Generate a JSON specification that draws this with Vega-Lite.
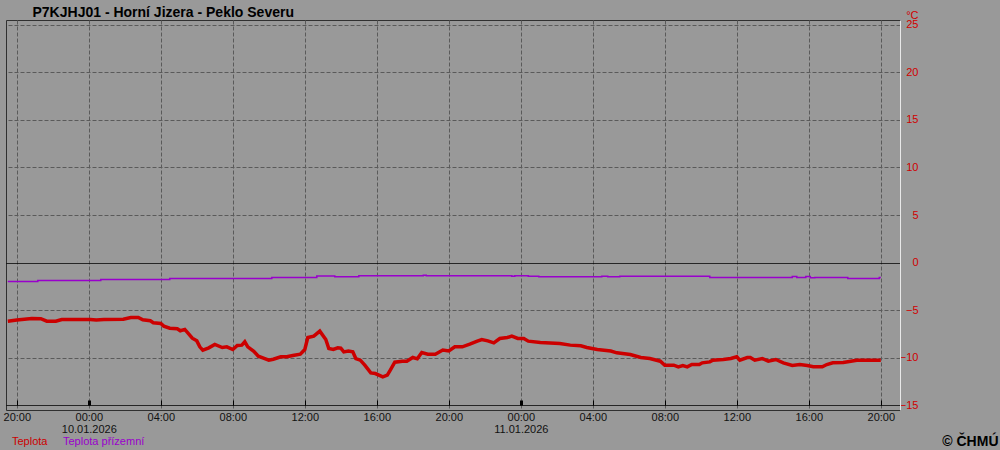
{
  "$schema": "https://vega.github.io/schema/vega-lite/v6.json",
  "width": 894,
  "height": 390,
  "autosize": "none",
  "padding": {"left": 6, "top": 20, "right": 100, "bottom": 40},
  "background": "#999999",
  "view": {"stroke": "#303030", "strokeWidth": 1},
  "config": {"font": "Liberation Sans"},
  "datasets": {
    "temp": [
      {"t": "2026-01-09T19:30", "s": "Teplota", "v": -6.16},
      {"t": "2026-01-09T20:00", "s": "Teplota", "v": -6.05},
      {"t": "2026-01-09T20:50", "s": "Teplota", "v": -5.88},
      {"t": "2026-01-09T21:20", "s": "Teplota", "v": -5.9},
      {"t": "2026-01-09T21:40", "s": "Teplota", "v": -6.16},
      {"t": "2026-01-09T22:10", "s": "Teplota", "v": -6.16},
      {"t": "2026-01-09T22:30", "s": "Teplota", "v": -5.98},
      {"t": "2026-01-10T00:05", "s": "Teplota", "v": -5.98},
      {"t": "2026-01-10T00:25", "s": "Teplota", "v": -6.05},
      {"t": "2026-01-10T00:50", "s": "Teplota", "v": -5.98},
      {"t": "2026-01-10T01:55", "s": "Teplota", "v": -5.95},
      {"t": "2026-01-10T02:20", "s": "Teplota", "v": -5.77},
      {"t": "2026-01-10T02:45", "s": "Teplota", "v": -5.77},
      {"t": "2026-01-10T03:00", "s": "Teplota", "v": -6.02},
      {"t": "2026-01-10T03:25", "s": "Teplota", "v": -6.12},
      {"t": "2026-01-10T03:35", "s": "Teplota", "v": -6.33},
      {"t": "2026-01-10T04:00", "s": "Teplota", "v": -6.4},
      {"t": "2026-01-10T04:10", "s": "Teplota", "v": -6.68},
      {"t": "2026-01-10T04:30", "s": "Teplota", "v": -6.9},
      {"t": "2026-01-10T04:55", "s": "Teplota", "v": -6.96},
      {"t": "2026-01-10T05:05", "s": "Teplota", "v": -7.17},
      {"t": "2026-01-10T05:20", "s": "Teplota", "v": -7.03},
      {"t": "2026-01-10T05:30", "s": "Teplota", "v": -7.39},
      {"t": "2026-01-10T05:45", "s": "Teplota", "v": -7.95},
      {"t": "2026-01-10T06:00", "s": "Teplota", "v": -8.23},
      {"t": "2026-01-10T06:10", "s": "Teplota", "v": -8.86},
      {"t": "2026-01-10T06:20", "s": "Teplota", "v": -9.2},
      {"t": "2026-01-10T06:40", "s": "Teplota", "v": -8.96},
      {"t": "2026-01-10T07:00", "s": "Teplota", "v": -8.6},
      {"t": "2026-01-10T07:25", "s": "Teplota", "v": -8.93},
      {"t": "2026-01-10T07:40", "s": "Teplota", "v": -8.86},
      {"t": "2026-01-10T08:00", "s": "Teplota", "v": -9.14},
      {"t": "2026-01-10T08:15", "s": "Teplota", "v": -8.72},
      {"t": "2026-01-10T08:30", "s": "Teplota", "v": -8.68},
      {"t": "2026-01-10T08:40", "s": "Teplota", "v": -8.33},
      {"t": "2026-01-10T08:50", "s": "Teplota", "v": -8.86},
      {"t": "2026-01-10T09:10", "s": "Teplota", "v": -9.32},
      {"t": "2026-01-10T09:25", "s": "Teplota", "v": -9.84},
      {"t": "2026-01-10T09:40", "s": "Teplota", "v": -10.02},
      {"t": "2026-01-10T10:00", "s": "Teplota", "v": -10.26},
      {"t": "2026-01-10T10:15", "s": "Teplota", "v": -10.16},
      {"t": "2026-01-10T10:40", "s": "Teplota", "v": -9.91},
      {"t": "2026-01-10T11:00", "s": "Teplota", "v": -9.91},
      {"t": "2026-01-10T11:20", "s": "Teplota", "v": -9.77},
      {"t": "2026-01-10T11:45", "s": "Teplota", "v": -9.63},
      {"t": "2026-01-10T12:00", "s": "Teplota", "v": -9.14},
      {"t": "2026-01-10T12:10", "s": "Teplota", "v": -7.88},
      {"t": "2026-01-10T12:30", "s": "Teplota", "v": -7.74},
      {"t": "2026-01-10T12:50", "s": "Teplota", "v": -7.21},
      {"t": "2026-01-10T13:10", "s": "Teplota", "v": -8.09},
      {"t": "2026-01-10T13:20", "s": "Teplota", "v": -9.04},
      {"t": "2026-01-10T13:35", "s": "Teplota", "v": -9.14},
      {"t": "2026-01-10T13:50", "s": "Teplota", "v": -8.96},
      {"t": "2026-01-10T14:00", "s": "Teplota", "v": -9.0},
      {"t": "2026-01-10T14:10", "s": "Teplota", "v": -9.39},
      {"t": "2026-01-10T14:25", "s": "Teplota", "v": -9.3},
      {"t": "2026-01-10T14:40", "s": "Teplota", "v": -9.39},
      {"t": "2026-01-10T14:50", "s": "Teplota", "v": -10.09},
      {"t": "2026-01-10T15:05", "s": "Teplota", "v": -10.26},
      {"t": "2026-01-10T15:20", "s": "Teplota", "v": -10.79},
      {"t": "2026-01-10T15:40", "s": "Teplota", "v": -11.6},
      {"t": "2026-01-10T15:55", "s": "Teplota", "v": -11.67},
      {"t": "2026-01-10T16:20", "s": "Teplota", "v": -12.02},
      {"t": "2026-01-10T16:35", "s": "Teplota", "v": -11.84},
      {"t": "2026-01-10T16:45", "s": "Teplota", "v": -11.3},
      {"t": "2026-01-10T17:00", "s": "Teplota", "v": -10.47},
      {"t": "2026-01-10T17:25", "s": "Teplota", "v": -10.37},
      {"t": "2026-01-10T17:40", "s": "Teplota", "v": -10.37},
      {"t": "2026-01-10T18:00", "s": "Teplota", "v": -9.98},
      {"t": "2026-01-10T18:15", "s": "Teplota", "v": -10.12},
      {"t": "2026-01-10T18:30", "s": "Teplota", "v": -9.46},
      {"t": "2026-01-10T18:50", "s": "Teplota", "v": -9.63},
      {"t": "2026-01-10T19:15", "s": "Teplota", "v": -9.63},
      {"t": "2026-01-10T19:40", "s": "Teplota", "v": -9.2},
      {"t": "2026-01-10T20:00", "s": "Teplota", "v": -9.3},
      {"t": "2026-01-10T20:20", "s": "Teplota", "v": -8.86},
      {"t": "2026-01-10T20:45", "s": "Teplota", "v": -8.86},
      {"t": "2026-01-10T21:10", "s": "Teplota", "v": -8.58},
      {"t": "2026-01-10T21:35", "s": "Teplota", "v": -8.26},
      {"t": "2026-01-10T21:50", "s": "Teplota", "v": -8.09},
      {"t": "2026-01-10T22:10", "s": "Teplota", "v": -8.23},
      {"t": "2026-01-10T22:30", "s": "Teplota", "v": -8.44},
      {"t": "2026-01-10T22:50", "s": "Teplota", "v": -7.98},
      {"t": "2026-01-10T23:15", "s": "Teplota", "v": -7.88},
      {"t": "2026-01-10T23:30", "s": "Teplota", "v": -7.74},
      {"t": "2026-01-10T23:50", "s": "Teplota", "v": -7.98},
      {"t": "2026-01-11T00:10", "s": "Teplota", "v": -7.98},
      {"t": "2026-01-11T00:25", "s": "Teplota", "v": -8.26},
      {"t": "2026-01-11T01:05", "s": "Teplota", "v": -8.4},
      {"t": "2026-01-11T02:10", "s": "Teplota", "v": -8.51},
      {"t": "2026-01-11T02:45", "s": "Teplota", "v": -8.68},
      {"t": "2026-01-11T03:20", "s": "Teplota", "v": -8.75},
      {"t": "2026-01-11T03:40", "s": "Teplota", "v": -8.93},
      {"t": "2026-01-11T04:15", "s": "Teplota", "v": -9.14},
      {"t": "2026-01-11T05:00", "s": "Teplota", "v": -9.3},
      {"t": "2026-01-11T05:20", "s": "Teplota", "v": -9.49},
      {"t": "2026-01-11T06:05", "s": "Teplota", "v": -9.67},
      {"t": "2026-01-11T06:40", "s": "Teplota", "v": -9.98},
      {"t": "2026-01-11T07:10", "s": "Teplota", "v": -10.09},
      {"t": "2026-01-11T07:45", "s": "Teplota", "v": -10.37},
      {"t": "2026-01-11T08:00", "s": "Teplota", "v": -10.79},
      {"t": "2026-01-11T08:30", "s": "Teplota", "v": -10.79},
      {"t": "2026-01-11T08:45", "s": "Teplota", "v": -10.96},
      {"t": "2026-01-11T09:00", "s": "Teplota", "v": -10.82},
      {"t": "2026-01-11T09:15", "s": "Teplota", "v": -10.96},
      {"t": "2026-01-11T09:30", "s": "Teplota", "v": -10.72},
      {"t": "2026-01-11T09:55", "s": "Teplota", "v": -10.72},
      {"t": "2026-01-11T10:05", "s": "Teplota", "v": -10.54},
      {"t": "2026-01-11T10:30", "s": "Teplota", "v": -10.44},
      {"t": "2026-01-11T10:40", "s": "Teplota", "v": -10.26},
      {"t": "2026-01-11T11:15", "s": "Teplota", "v": -10.19},
      {"t": "2026-01-11T11:40", "s": "Teplota", "v": -10.09},
      {"t": "2026-01-11T12:00", "s": "Teplota", "v": -9.91},
      {"t": "2026-01-11T12:10", "s": "Teplota", "v": -10.26},
      {"t": "2026-01-11T12:35", "s": "Teplota", "v": -9.98},
      {"t": "2026-01-11T12:45", "s": "Teplota", "v": -9.98},
      {"t": "2026-01-11T13:00", "s": "Teplota", "v": -10.26},
      {"t": "2026-01-11T13:25", "s": "Teplota", "v": -10.09},
      {"t": "2026-01-11T13:45", "s": "Teplota", "v": -10.37},
      {"t": "2026-01-11T14:10", "s": "Teplota", "v": -10.19},
      {"t": "2026-01-11T14:35", "s": "Teplota", "v": -10.54},
      {"t": "2026-01-11T15:05", "s": "Teplota", "v": -10.82},
      {"t": "2026-01-11T15:30", "s": "Teplota", "v": -10.72},
      {"t": "2026-01-11T15:55", "s": "Teplota", "v": -10.82},
      {"t": "2026-01-11T16:15", "s": "Teplota", "v": -10.96},
      {"t": "2026-01-11T16:45", "s": "Teplota", "v": -10.96},
      {"t": "2026-01-11T17:00", "s": "Teplota", "v": -10.72},
      {"t": "2026-01-11T17:20", "s": "Teplota", "v": -10.54},
      {"t": "2026-01-11T17:55", "s": "Teplota", "v": -10.51},
      {"t": "2026-01-11T18:40", "s": "Teplota", "v": -10.26},
      {"t": "2026-01-11T20:00", "s": "Teplota", "v": -10.26}
    ],
    "ground": [
      {"t": "2026-01-09T19:30", "s": "Teplota přízemní", "v": -1.98},
      {"t": "2026-01-09T21:10", "s": "Teplota přízemní", "v": -1.88},
      {"t": "2026-01-10T00:40", "s": "Teplota přízemní", "v": -1.77},
      {"t": "2026-01-10T04:30", "s": "Teplota přízemní", "v": -1.67},
      {"t": "2026-01-10T10:10", "s": "Teplota přízemní", "v": -1.56},
      {"t": "2026-01-10T12:40", "s": "Teplota přízemní", "v": -1.42},
      {"t": "2026-01-10T13:40", "s": "Teplota přízemní", "v": -1.49},
      {"t": "2026-01-10T15:00", "s": "Teplota přízemní", "v": -1.39},
      {"t": "2026-01-10T18:35", "s": "Teplota přízemní", "v": -1.33},
      {"t": "2026-01-10T18:45", "s": "Teplota přízemní", "v": -1.39},
      {"t": "2026-01-10T23:30", "s": "Teplota přízemní", "v": -1.44},
      {"t": "2026-01-10T23:40", "s": "Teplota přízemní", "v": -1.39},
      {"t": "2026-01-11T00:25", "s": "Teplota přízemní", "v": -1.44},
      {"t": "2026-01-11T01:00", "s": "Teplota přízemní", "v": -1.49},
      {"t": "2026-01-11T04:30", "s": "Teplota přízemní", "v": -1.44},
      {"t": "2026-01-11T04:50", "s": "Teplota přízemní", "v": -1.49},
      {"t": "2026-01-11T05:30", "s": "Teplota přízemní", "v": -1.44},
      {"t": "2026-01-11T10:30", "s": "Teplota přízemní", "v": -1.56},
      {"t": "2026-01-11T15:05", "s": "Teplota přízemní", "v": -1.46},
      {"t": "2026-01-11T15:20", "s": "Teplota přízemní", "v": -1.56},
      {"t": "2026-01-11T15:50", "s": "Teplota přízemní", "v": -1.46},
      {"t": "2026-01-11T16:05", "s": "Teplota přízemní", "v": -1.6},
      {"t": "2026-01-11T16:20", "s": "Teplota přízemní", "v": -1.56},
      {"t": "2026-01-11T18:10", "s": "Teplota přízemní", "v": -1.67},
      {"t": "2026-01-11T19:55", "s": "Teplota přízemní", "v": -1.56},
      {"t": "2026-01-11T20:00", "s": "Teplota přízemní", "v": -1.56}
    ]
  },
  "layer": [
    {
      "data": {"name": "temp"},
      "mark": {"type": "line", "strokeWidth": 3.5, "interpolate": "linear"},
      "encoding": {
        "x": {
          "field": "t",
          "type": "temporal",
          "scale": {
            "domain": [
              {"year": 2026, "month": 1, "date": 9, "hours": 19, "minutes": 24},
              {"year": 2026, "month": 1, "date": 11, "hours": 21, "minutes": 4}
            ]
          },
          "axis": {
            "orient": "bottom",
            "offset": -5,
            "domain": false,
            "values": [
              {"year": 2026, "month": 1, "date": 9, "hours": 20},
              {"year": 2026, "month": 1, "date": 9, "hours": 22},
              {"year": 2026, "month": 1, "date": 10, "hours": 0},
              {"year": 2026, "month": 1, "date": 10, "hours": 2},
              {"year": 2026, "month": 1, "date": 10, "hours": 4},
              {"year": 2026, "month": 1, "date": 10, "hours": 6},
              {"year": 2026, "month": 1, "date": 10, "hours": 8},
              {"year": 2026, "month": 1, "date": 10, "hours": 10},
              {"year": 2026, "month": 1, "date": 10, "hours": 12},
              {"year": 2026, "month": 1, "date": 10, "hours": 14},
              {"year": 2026, "month": 1, "date": 10, "hours": 16},
              {"year": 2026, "month": 1, "date": 10, "hours": 18},
              {"year": 2026, "month": 1, "date": 10, "hours": 20},
              {"year": 2026, "month": 1, "date": 10, "hours": 22},
              {"year": 2026, "month": 1, "date": 11, "hours": 0},
              {"year": 2026, "month": 1, "date": 11, "hours": 2},
              {"year": 2026, "month": 1, "date": 11, "hours": 4},
              {"year": 2026, "month": 1, "date": 11, "hours": 6},
              {"year": 2026, "month": 1, "date": 11, "hours": 8},
              {"year": 2026, "month": 1, "date": 11, "hours": 10},
              {"year": 2026, "month": 1, "date": 11, "hours": 12},
              {"year": 2026, "month": 1, "date": 11, "hours": 14},
              {"year": 2026, "month": 1, "date": 11, "hours": 16},
              {"year": 2026, "month": 1, "date": 11, "hours": 18},
              {"year": 2026, "month": 1, "date": 11, "hours": 20}
            ],
            "ticks": true,
            "tickSize": -5,
            "tickColor": "#000000",
            "tickWidth": {"condition": {"test": "hours(datum.value) == 0", "value": 3}, "value": 1},
            "grid": true,
            "gridColor": "#5a5a5a",
            "gridDash": [4, 2],
            "gridWidth": 1,
            "gridOpacity": {"condition": {"test": "hours(datum.value) % 4 == 0", "value": 1}, "value": 0},
            "labelExpr": "hours(datum.value) % 4 != 0 ? '' : (hours(datum.value) == 0 ? [timeFormat(datum.value, '%H:%M'), timeFormat(datum.value, '%d.%m.%Y')] : timeFormat(datum.value, '%H:%M'))",
            "labelFont": "Liberation Sans",
            "labelFontSize": 11,
            "labelColor": "#111111",
            "labelBaseline": "top",
            "labelLineHeight": 12.5,
            "labelPadding": 11,
            "labelFlush": false,
            "labelOverlap": false,
            "title": "© ČHMÚ",
            "titleFont": "Liberation Sans",
            "titleFontSize": 14,
            "titleFontWeight": "bold",
            "titleColor": "#000000",
            "titleAlign": "right",
            "titleBaseline": "alphabetic",
            "titleX": 992,
            "titleY": 40
          }
        },
        "y": {
          "field": "v",
          "type": "quantitative",
          "scale": {"domain": [-15.5, 25.5], "nice": false, "zero": false},
          "axis": {
            "orient": "right",
            "values": [-15, -10, -5, 0, 5, 10, 15, 20, 25, 25.5],
            "domain": true,
            "domainColor": "#e8e8e8",
            "domainWidth": 1,
            "ticks": false,
            "labelExpr": "datum.value > 25.2 ? '°C' : datum.label",
            "labelColor": "#d00000",
            "labelFont": "Liberation Sans",
            "labelFontSize": 11,
            "labelAlign": "right",
            "labelBaseline": {"condition": {"test": "datum.value > 25.2", "value": "bottom"}, "value": "middle"},
            "labelPadding": 18,
            "labelOverlap": false,
            "labelFlush": false,
            "grid": true,
            "gridWidth": 1,
            "gridColor": {"condition": {"test": "datum.value == 0 || datum.value == -15", "value": "#000000"}, "value": "#5a5a5a"},
            "gridDash": {"condition": {"test": "datum.value == 0 || datum.value == -15", "value": [1, 0]}, "value": [4, 2]},
            "gridOpacity": {"condition": {"test": "datum.value > 25.2", "value": 0}, "value": 1},
            "title": "P7KJHJ01 - Horní Jizera - Peklo Severu",
            "titleAngle": 0,
            "titleColor": "#000000",
            "titleFont": "Liberation Sans",
            "titleFontSize": 14,
            "titleFontWeight": "bold",
            "titleAlign": "left",
            "titleBaseline": "alphabetic",
            "titleX": -868,
            "titleY": -3.5
          }
        },
        "color": {
          "field": "s",
          "type": "nominal",
          "scale": {"domain": ["Teplota", "Teplota přízemní"], "range": ["#cc0000", "#9900cc"]},
          "legend": {
            "orient": "none",
            "legendX": -5,
            "legendY": 416,
            "direction": "horizontal",
            "title": null,
            "padding": 0,
            "symbolSize": 0,
            "symbolOpacity": 0,
            "symbolStrokeWidth": 0,
            "labelOffset": 0,
            "columnPadding": 4,
            "labelFont": "Liberation Sans",
            "labelFontSize": 11,
            "encode": {"labels": {"update": {"fill": {"scale": "color", "field": "value"}}}}
          }
        }
      }
    },
    {
      "data": {"name": "ground"},
      "mark": {"type": "line", "strokeWidth": 1.5, "interpolate": "step-after"},
      "encoding": {
        "x": {"field": "t", "type": "temporal"},
        "y": {"field": "v", "type": "quantitative"},
        "color": {"field": "s", "type": "nominal"}
      }
    }
  ]
}
